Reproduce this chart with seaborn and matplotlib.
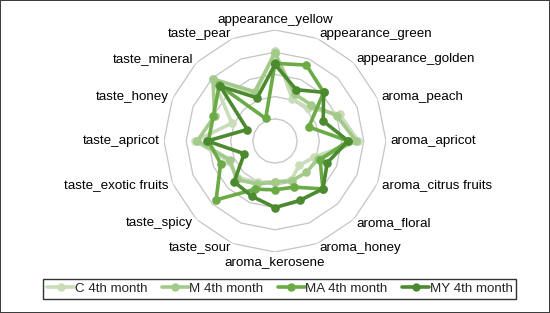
import numpy as np
import pandas as pd
import matplotlib.pyplot as plt
import seaborn as sns
from matplotlib.lines import Line2D

# axis labels, clockwise from the top
attributes = ['appearance_yellow', 'appearance_green', 'appearance_golden', 'aroma_peach',
              'aroma_apricot', 'aroma_citrus fruits', 'aroma_floral', 'aroma_honey',
              'aroma_kerosene', 'taste_sour', 'taste_spicy', 'taste_exotic fruits',
              'taste_apricot', 'taste_honey', 'taste_mineral', 'taste_pear']

series_names = ['C 4th month', 'M 4th month', 'MA 4th month', 'MY 4th month']

c_4th = [4.05, 2.05, 2.1, 3.15, 3.75, 1.9, 1.55, 1.9, 1.85, 2.0, 2.35, 2.3, 3.6, 2.1, 3.95, 2.3]
m_4th = [3.95, 2.3, 2.3, 3.0, 3.65, 2.1, 2.0, 1.95, 1.85, 2.1, 2.45, 2.2, 3.5, 2.95, 3.95, 2.4]
ma_4th = [3.5, 3.7, 3.1, 1.65, 3.3, 2.2, 3.05, 2.25, 2.2, 2.35, 3.75, 2.65, 3.0, 3.0, 3.55, 1.1]
my_4th = [3.45, 2.5, 3.1, 2.35, 3.3, 2.55, 3.05, 2.9, 3.0, 2.7, 2.6, 1.5, 3.05, 1.35, 3.5, 2.1]

colors = ['#c8ddb8', '#a3c98b', '#6aab46', '#4b8a2e']
ring_levels = [1, 2, 3, 4, 5]

sns.set_theme(style='white')
plt.rcParams['font.family'] = ['Liberation Sans', 'DejaVu Sans']

n = len(attributes)
theta = np.linspace(0, 2 * np.pi, n, endpoint=False)
theta_closed = np.append(theta, 2 * np.pi)

rows = []
for name, vals in zip(series_names, [c_4th, m_4th, ma_4th, my_4th]):
    closed = list(vals) + [vals[0]]
    for t, v in zip(theta_closed, closed):
        rows.append({'series': name, 'theta': t, 'value': v})
df = pd.DataFrame(rows)

fig = plt.figure(figsize=(5.5, 3.13), dpi=100, edgecolor='#3c3c3c', linewidth=1.2)
ax = fig.add_axes([0.2982, 0.1949, 0.4036, 0.7093], projection='polar')
ax.set_theta_zero_location('N')
ax.set_theta_direction(-1)
ax.set_ylim(0, 5)
ax.grid(False)
ax.spines['polar'].set_visible(False)
ax.set_xticks([])
ax.set_yticks([])
ax.set_facecolor('none')

# polygonal grid rings
for lev in ring_levels:
    ax.plot(theta_closed, [lev] * len(theta_closed), color='#c4c4c4', lw=0.9, zorder=1)

sns.lineplot(data=df, x='theta', y='value', hue='series', palette=colors,
             hue_order=series_names, marker='o', markersize=6.2, markeredgewidth=0,
             linewidth=2.6, sort=False, legend=False, ax=ax, zorder=3)
ax.set_xlabel('')
ax.set_ylabel('')

# category labels
for t, lab in zip(theta, attributes):
    s, c = np.sin(t), np.cos(t)
    if abs(s) < 1e-6:
        ha = 'center'
        va = 'bottom' if c > 0 else 'top'
    else:
        ha = 'left' if s > 0 else 'right'
        va = 'center'
    ax.text(t, 5.2, lab, ha=ha, va=va, fontsize=9.6, color='black', clip_on=False)

handles = [Line2D([0], [0], color=col, lw=2.6, marker='o', markersize=5) for col in colors]
leg = fig.legend(handles, series_names, loc='center', bbox_to_anchor=(0.509, 0.077),
                 ncol=4, fontsize=9.6, frameon=True, fancybox=False, handlelength=2.0,
                 handletextpad=0.05, columnspacing=1.1, borderpad=0.3, borderaxespad=0)
leg.get_frame().set_edgecolor('black')
leg.get_frame().set_linewidth(1.0)

fig.savefig('out.png', dpi=100, edgecolor=fig.get_edgecolor())
